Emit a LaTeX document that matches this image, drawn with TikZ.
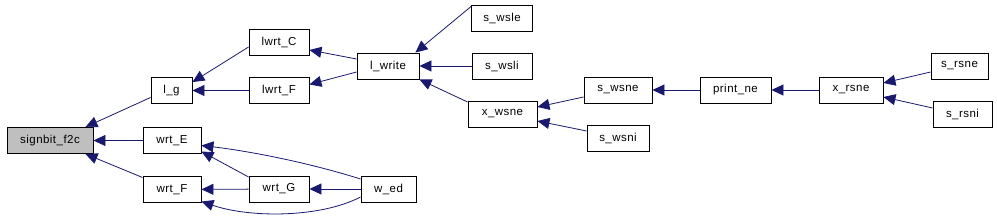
\documentclass[tikz,border=0pt]{standalone}
\usepackage{fontspec}
\setmainfont[LetterSpace=4]{Liberation Sans}
\usetikzlibrary{arrows.meta}

\definecolor{midnight}{RGB}{25,25,112}
\definecolor{lgray}{RGB}{191,191,191}

\tikzset{
  fn/.style={draw=black, fill=white, line width=0.9pt, minimum height=26pt, inner sep=0pt, font=\fontsize{11.5}{13}\selectfont},
  calls/.style={draw=midnight, line width=0.8pt, -{Triangle[length=12pt,width=11pt,fill=midnight]}},
}

\begin{document}
\begin{tikzpicture}[x=1pt, y=-1pt]
    \useasboundingbox (0,0) rectangle (997,221);

    % Funkcje
    \node[fn, fill=lgray, minimum width=86pt] (sbf2c) at (50,140.5) {signbit\_f2c};
    \node[fn, minimum width=41pt] (lg) at (171.5,90.5) {l\_g};
    \node[fn, minimum width=58pt] (wrtE) at (172,140.5) {wrt\_E};
    \node[fn, minimum width=58pt] (wrtF) at (172,189.5) {wrt\_F};
    \node[fn, minimum width=60pt] (lwrtC) at (279,42) {lwrt\_C};
    \node[fn, minimum width=60pt] (lwrtF) at (279,90.5) {lwrt\_F};
    \node[fn, minimum width=60pt] (wrtG) at (279,189) {wrt\_G};
    \node[fn, minimum width=62pt] (lwrite) at (388,66) {l\_write};
    \node[fn, minimum width=55pt] (wed) at (388.5,189) {w\_ed};
    \node[fn, minimum width=61pt] (swsle) at (502,18.5) {s\_wsle};
    \node[fn, minimum width=60pt] (swsli) at (502,66) {s\_wsli};
    \node[fn, minimum width=69pt] (xwsne) at (502.5,114) {x\_wsne};
    \node[fn, minimum width=68pt] (swsne) at (618,90) {s\_wsne};
    \node[fn, minimum width=62pt] (swsni) at (618,138) {s\_wsni};
    \node[fn, minimum width=71pt] (printne) at (735.5,90) {print\_ne};
    \node[fn, minimum width=64pt] (xrsne) at (851,90) {x\_rsne};
    \node[fn, minimum width=57pt] (srsne) at (959.5,66) {s\_rsne};
    \node[fn, minimum width=59pt] (srsni) at (962.5,114) {s\_rsni};

    % Wywolania
    \draw[calls] ([yshift=-7pt]lg.west) -- ([xshift=-8pt]sbf2c.north east);
    \draw[calls] (wrtE) -- (sbf2c);
    \draw[calls] ([yshift=12pt]wrtF.west) -- ([xshift=-8pt]sbf2c.south east);
    \draw[calls] ([yshift=-5pt]lwrtC.west) -- ([yshift=-5pt]lg.north east);
    \draw[calls] (lwrtF) -- (lg);
    \draw[calls] ([yshift=7pt]lwrite.west) -- ([yshift=-8pt]lwrtC.east);
    \draw[calls] ([yshift=-6pt]lwrite.west) -- ([yshift=6pt]lwrtF.east);
    \draw[calls] ([yshift=12pt]swsle.west) -- ([xshift=-4pt]lwrite.north east);
    \draw[calls] (swsli) -- (lwrite);
    \draw[calls] ([yshift=12pt]xwsne.west) -- (lwrite.south east);
    \draw[calls] ([yshift=-7pt]swsne.west) -- ([yshift=7pt]xwsne.east);
    \draw[calls] ([yshift=7pt]swsni.west) -- ([yshift=-7pt]xwsne.east);
    \draw[calls] (printne) -- (swsne);
    \draw[calls] (xrsne) -- (printne);
    \draw[calls] ([yshift=-6pt]srsne.west) -- ([yshift=7pt]xrsne.east);
    \draw[calls] ([yshift=6pt]srsni.west) -- ([yshift=-7pt]xrsne.east);
    \draw[calls] ([yshift=10pt]wed.west) .. controls (300,160) and (240,150) .. ([yshift=-5pt]wrtE.east);
    \draw[calls] ([yshift=12pt]wrtG.west) -- ([yshift=-11pt]wrtE.east);
    \draw[calls] (wed) -- (wrtG);
    \draw[calls] (wrtG) -- (wrtF);
    \draw[calls] ([yshift=-8pt]wed.west) .. controls (320,218) and (250,218) .. ([yshift=-12pt]wrtF.east);
\end{tikzpicture}
\end{document}
